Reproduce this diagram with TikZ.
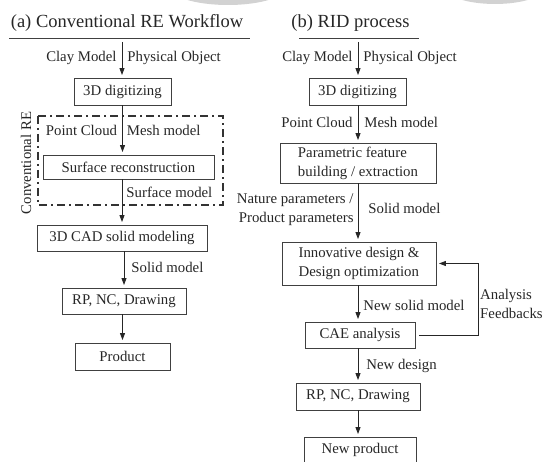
\documentclass[tikz,border=0pt]{standalone}
\usepackage{fontspec}
\setmainfont{Liberation Serif}
\usetikzlibrary{arrows.meta}

\begin{document}
\begin{tikzpicture}[x=1pt,y=-1pt,font=\fontsize{14.8}{19}\selectfont,
box/.style={draw=black!75,line width=.9pt,inner sep=0pt,text=black!85},
flow/.style={draw=black!85,line width=.9pt,shorten >=2.5pt,-{Triangle[length=7pt,width=5pt]}},
lbl/.style={inner sep=0pt,text=black!85},
frame/.style={draw=black!80,line width=1.4pt,dash pattern=on 8pt off 4pt on 2pt off 4pt}]
\useasboundingbox (0,0) rectangle (544,462);
\fill[gray!35] (228,-14) ellipse [x radius=60pt,y radius=19pt];
\fill[gray!35] (495,-14) ellipse [x radius=52pt,y radius=18pt];

% (a) conventional workflow
\node[lbl] (ttla) at (127,23) {\fontsize{18.5}{20}\selectfont (a) Conventional RE Workflow};
\coordinate (ula) at (9,38); \coordinate (ulb) at (250,38);
\draw[black!75,line width=.9pt] (ula) -- (ulb);
\coordinate (ina) at (122,42);
\node[box,minimum width=97,minimum height=27] (diga) at (122.5,91.5) {3D digitizing};
\node[box,minimum width=171,minimum height=24] (surf) at (128.5,167) {Surface reconstruction};
\node[box,minimum width=170,minimum height=26] (cad) at (122,238) {3D CAD solid modeling};
\node[box,minimum width=124,minimum height=26] (rpa) at (124,301) {RP, NC, Drawing};
\node[box,minimum width=95,minimum height=27] (prod) at (122.5,356.5) {Product};
\draw[frame] (38,116) rectangle (223,205);
\node[lbl,rotate=90] (crea) at (26,163) {Conventional RE};
\draw[flow] (ina) -- (ina |- diga.north)
  node[lbl,pos=.45,left=5pt] (claya) {Clay Model}
  node[lbl,pos=.45,right=5pt] (physa) {Physical Object};
\draw[flow] (diga.south) -- (diga.south |- surf.north)
  node[lbl,pos=.5,left=5pt] (pcla) {Point Cloud}
  node[lbl,pos=.5,right=4pt] (mesha) {Mesh model};
\draw[flow] (cad.north |- surf.south) -- (cad.north)
  node[lbl,pos=.28,right=4pt] (surfm) {Surface model};
\draw[flow] (cad.south -| rpa.north) -- (rpa.north)
  node[lbl,pos=.45,right=7pt] (solida) {Solid model};
\draw[flow] (rpa.south -| prod.north) -- (prod.north);

% (b) RID process
\node[lbl] (ttlb) at (350.5,23) {\fontsize{18.5}{20}\selectfont (b) RID process};
\coordinate (ulc) at (299,38); \coordinate (uld) at (419,38);
\draw[black!75,line width=.9pt] (ulc) -- (uld);
\coordinate (inb) at (358,42);
\node[box,minimum width=97,minimum height=27] (digb) at (357.5,91.5) {3D digitizing};
\node[box,minimum width=156,minimum height=40,align=left] (param) at (358,163) {Parametric feature\\building / extraction};
\node[box,minimum width=154,minimum height=43,align=left] (innov) at (359,263.5) {Innovative design \&\\Design optimization};
\node[box,minimum width=110,minimum height=26] (cae) at (360,335) {CAE analysis};
\node[box,minimum width=124,minimum height=27] (rpb) at (358,396.5) {RP, NC, Drawing};
\node[box,minimum width=112,minimum height=26] (newp) at (360,450) {New product};
\draw[flow] (inb) -- (inb |- digb.north)
  node[lbl,pos=.45,left=5pt] (clayb) {Clay Model}
  node[lbl,pos=.45,right=5pt] (physb) {Physical Object};
\draw[flow] (inb |- digb.south) -- (inb |- param.north)
  node[lbl,pos=.45,left=5pt] (pclb) {Point Cloud}
  node[lbl,pos=.45,right=6pt] (meshb) {Mesh model};
\draw[flow] (inb |- param.south) -- (inb |- innov.north)
  node[lbl,pos=.45,left=4pt,align=right] (natp) {Nature parameters /\\Product parameters}
  node[lbl,pos=.43,right=10pt] (solidb) {Solid model};
\draw[flow] (inb |- innov.south) -- (inb |- cae.north)
  node[lbl,pos=.55,right=5pt] (newsm) {New solid model};
\draw[flow] (inb |- cae.south) -- (inb |- rpb.north)
  node[lbl,pos=.5,right=8pt] (newd) {New design};
\draw[flow] (inb |- rpb.south) -- (inb |- newp.north);
\draw[flow] ([xshift=4pt]cae.east) -- ++(59,0) coordinate (fbk) |- (innov.east);
\node[lbl,align=left,anchor=west] (anfb) at (480,303.5) {Analysis\\Feedbacks};
\end{tikzpicture}
\end{document}
